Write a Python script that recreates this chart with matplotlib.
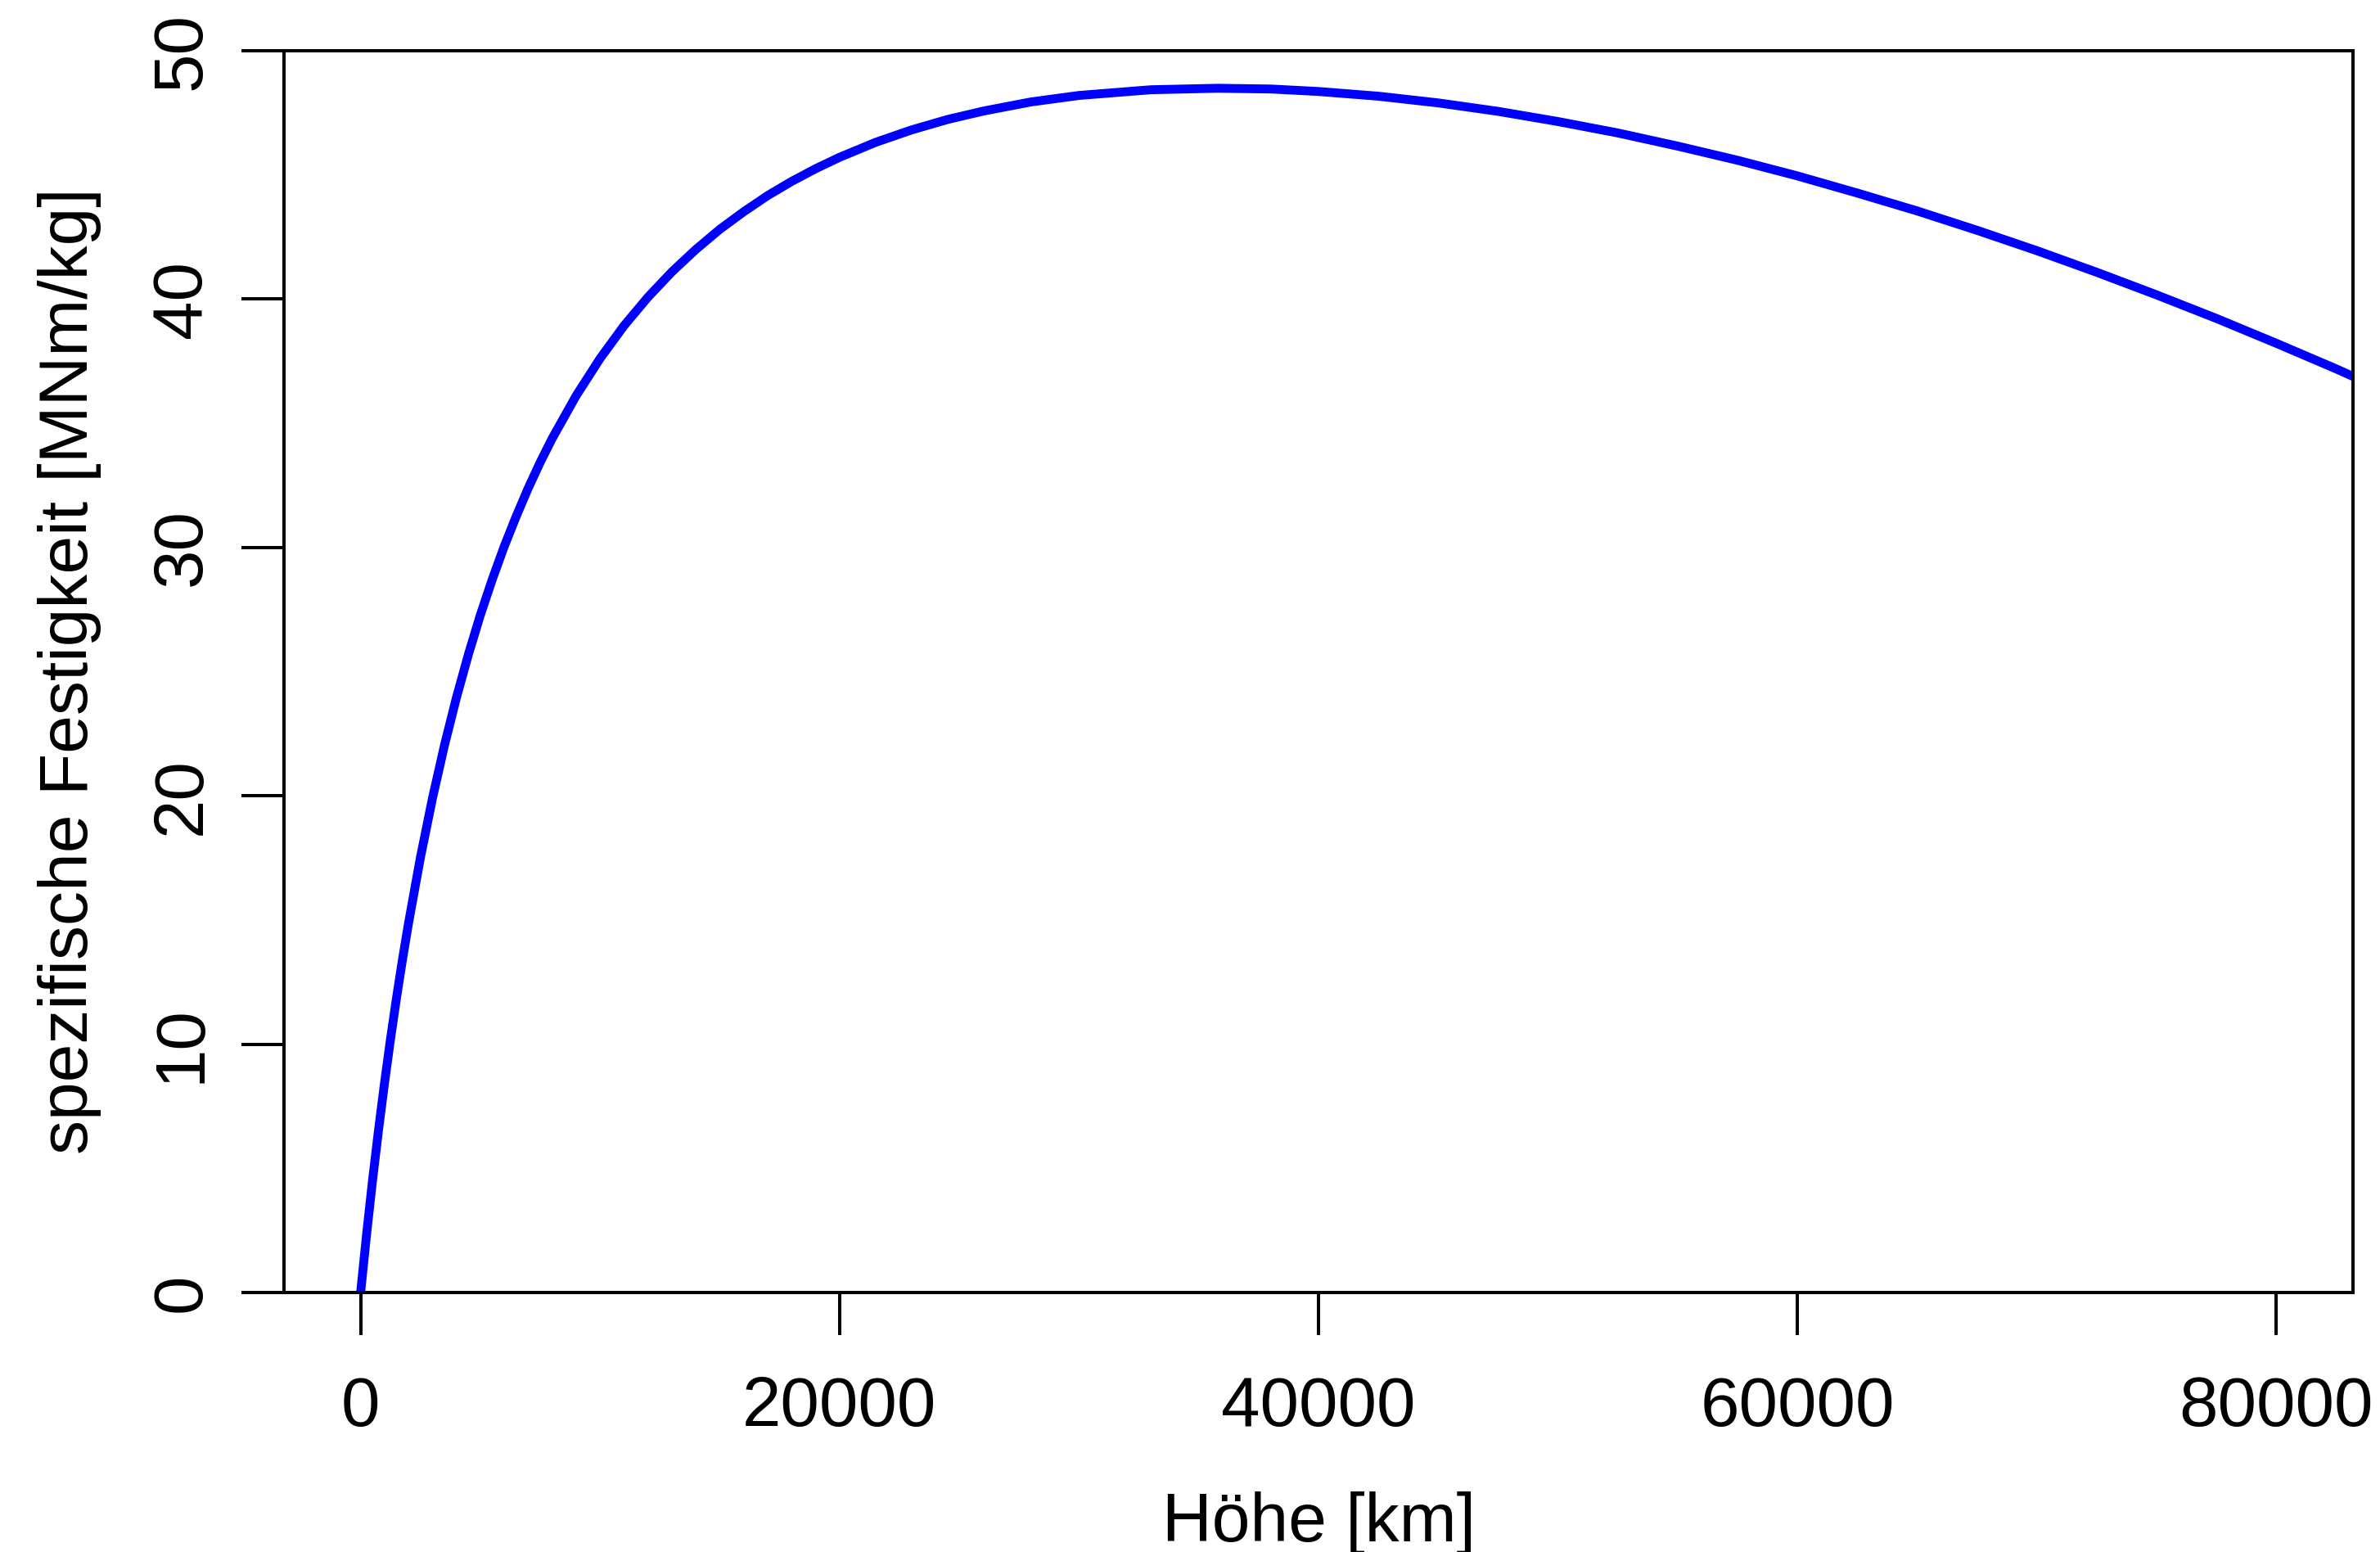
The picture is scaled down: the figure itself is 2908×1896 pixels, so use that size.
import matplotlib
matplotlib.use('Agg')
import matplotlib.pyplot as plt

# height above ground [km] and required specific strength [MNm/kg]
hoehe = [0, 250, 500, 750, 1000, 1250, 1500, 1750, 2000, 2500, 3000, 3500, 4000, 4500,
         5000, 5500, 6000, 6500, 7000, 7500, 8000, 9000, 10000, 11000, 12000, 13000,
         14000, 15000, 16000, 17000, 18000, 19000, 20000, 21500, 23000, 24500, 26000,
         28000, 30000, 33000, 35786, 38000, 40000, 42500, 45000, 47500, 50000, 52500,
         55000, 57500, 60000, 62500, 65000, 67500, 70000, 72500, 75000, 77500, 80000,
         82500, 85000]
festigkeit = [0.0, 2.35, 4.54, 6.56, 8.45, 10.22, 11.87, 13.42, 14.87, 17.53, 19.90,
              22.03, 23.95, 25.69, 27.28, 28.72, 30.05, 31.26, 32.39, 33.43, 34.39,
              36.11, 37.61, 38.93, 40.08, 41.10, 42.00, 42.81, 43.52, 44.17, 44.74,
              45.25, 45.71, 46.31, 46.81, 47.23, 47.57, 47.94, 48.20, 48.43, 48.49,
              48.46, 48.36, 48.17, 47.90, 47.56, 47.15, 46.69, 46.16, 45.59, 44.96,
              44.27, 43.55, 42.77, 41.95, 41.08, 40.17, 39.22, 38.22, 37.19, 36.11]

x_ticks = [0, 20000, 40000, 60000, 80000]
y_ticks = [0, 10, 20, 30, 40, 50]

plt.rcParams['font.family'] = ['Liberation Sans', 'DejaVu Sans']

fig = plt.figure(figsize=(29.08, 18.96), dpi=100)
ax = fig.add_axes([347 / 2908, 1 - 1579 / 1896, (2875 - 347) / 2908, (1579 - 62) / 1896])

ax.plot(hoehe, festigkeit, color='#0000ff', linewidth=7.8,
        solid_joinstyle='round', solid_capstyle='butt')

ax.set_xlim(-3200, 83200)
ax.set_ylim(0, 50)
ax.set_xticks(x_ticks)
ax.set_xticklabels([str(t) for t in x_ticks])
ax.set_yticks(y_ticks)
ax.set_yticklabels([str(t) for t in y_ticks])

for s in ax.spines.values():
    s.set_linewidth(2.9)
ax.tick_params(direction='out', length=37.5, width=2.9, labelsize=61.5)
ax.tick_params(axis='x', pad=35)
ax.tick_params(axis='y', pad=23, labelrotation=90)
for lab in ax.get_yticklabels():
    lab.set_va('center')

# axis titles
fig.text(1611 / 2908, 1 - 1883 / 1896, 'Höhe [km]', fontsize=60.5,
         ha='center', va='baseline')
fig.text(107 / 2908, 1 - 820 / 1896, 'spezifische Festigkeit [MNm/kg]', fontsize=60.5,
         ha='center', va='baseline', rotation=90, rotation_mode='anchor')

fig.savefig('out.png', dpi=100, facecolor='white')
